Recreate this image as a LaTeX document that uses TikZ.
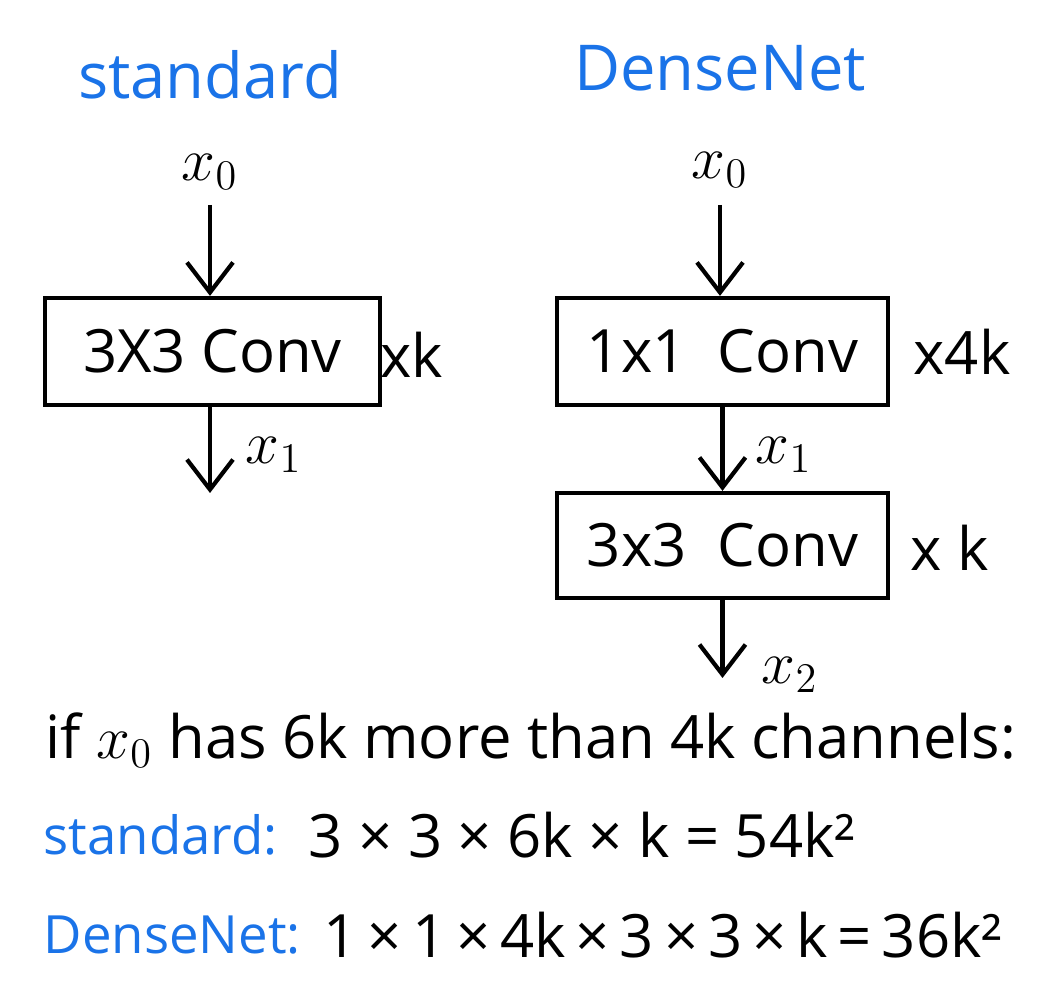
\documentclass[tikz,border=0pt]{standalone}
\usepackage{fontspec}
\usepackage{amsmath}
\setmainfont{Open Sans}
\usetikzlibrary{arrows.meta}
\usetikzlibrary{positioning}
\definecolor{hblue}{RGB}{26,115,232}

\begin{document}
\begin{tikzpicture}[
    line width=1.2pt,
    convbox/.style={draw, minimum height=1.07cm, font=\fontsize{17}{20}\selectfont},
    lbl/.style={font=\fontsize{17}{20}\selectfont},
    title/.style={hblue, font=\fontsize{18}{22}\selectfont},
    sumlbl/.style={hblue, anchor=west, font=\fontsize{15}{18}\selectfont},
    flow/.style={-{Straight Barb[length=3mm, width=4.6mm]}}
  ]
      \useasboundingbox (0, 0) rectangle (10.62, 9.84);

      % standard
      \node [title] (tstd) at (2.1, 9.09) {standard};
      \node [lbl] (x0a) at (2.1, 8.12) {$x_0$};
      \coordinate (ina) at (2.1, 7.79);
      \node [convbox, minimum width=3.35cm] (conva) at (2.125, 6.325) {3X3 Conv};
      \node [lbl] (ka) at (4.12, 6.29) {xk};
      \coordinate (outa) at (2.1, 4.91);
      \node [lbl] (x1a) at (2.74, 5.29) {$x_1$};

      % DenseNet
      \node [title] (tdn) at (7.2, 9.16) {DenseNet};
      \node [lbl] (x0b) at (7.2, 8.14) {$x_0$};
      \coordinate (inb) at (7.2, 7.79);
      \node [convbox, minimum width=3.31cm] (convb) at (7.225, 6.325) {1x1 \ Conv};
      \node [lbl] (kb) at (9.62, 6.32) {x4k};
      \node [convbox, minimum width=3.31cm, minimum height=1.05cm] (convc) at (7.225, 4.385) {3x3 \ Conv};
      \node [lbl] (kc) at (9.5, 4.36) {x k};
      \node [lbl] (x1b) at (7.84, 5.29) {$x_1$};
      \coordinate (outb) at (7.225, 3.06);
      \node [lbl] (x2b) at (7.9, 3.09) {$x_2$};

      \draw [flow] (ina) -- (ina |- conva.north);
      \draw [flow] (conva.south -| outa) -- (outa);
      \draw [flow] (inb) -- (inb |- convb.north);
      \draw [flow] (convb.south) -- (convc.north);
      \draw [flow] (convc.south) -- (outb);

      % cost
      \node [lbl, anchor=west] (cond) at (0.32, 2.44) {if $x_0$ has 6k more than 4k channels:};
      \node [sumlbl] (cstd) at (0.3, 1.49) {standard:};
      \node [lbl, anchor=west] (fstd) at (2.95, 1.49) {3 × 3 × 6k × k = 54k²};
      \node [sumlbl] (cdn) at (0.3, 0.49) {DenseNet:};
      \node [lbl, anchor=west] (fdn) at (3.1, 0.49) {1\,×\,1\,×\,4k\,×\,3\,×\,3\,×\,k\,=\,36k²};
    \end{tikzpicture}
\end{document}
